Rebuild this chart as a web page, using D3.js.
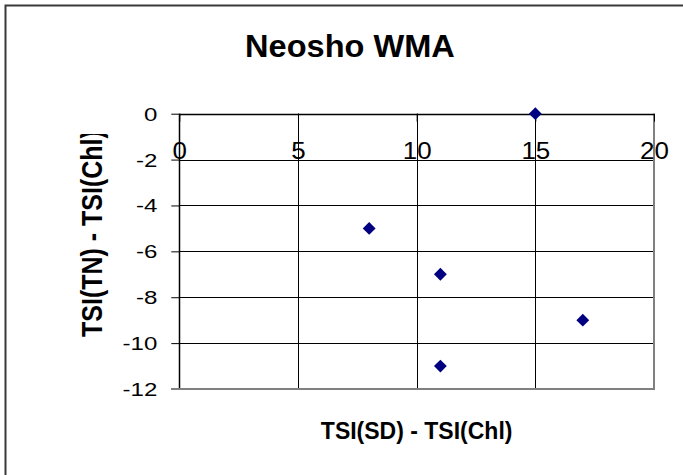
<!DOCTYPE html>
<html>
<head>
<meta charset="utf-8">
<script src="https://cdn.jsdelivr.net/npm/d3@7"></script>
<style>
  html, body { margin: 0; padding: 0; background: #fff; overflow: hidden; }
  svg { display: block; }
  text { font-family: "Liberation Sans", Arial, sans-serif; fill: #000; }
</style>
</head>
<body>
<svg id="chart" width="683" height="475"></svg>
<script>
// ---- data ----
const xValues = [15, 8, 11, 17, 11];
const yValues = [0, -5, -7, -9, -11];
const xTicks = [0, 5, 10, 15, 20];
const xTickLabels = ["0", "5", "10", "15", "20"];
const yTicks = [0, -2, -4, -6, -8, -10, -12];
const yTickLabels = ["0", "-2", "-4", "-6", "-8", "-10", "-12"];
const chartTitle = "Neosho WMA";
const xTitle = "TSI(SD) - TSI(Chl)";
const yTitle = "TSI(TN) - TSI(Chl)";

(function () {
const svg = d3.select("#chart");

// outer chart border (only top and left fall inside the window)
svg.append("path")
  .attr("d", "M5.5,490V5.5H700")
  .attr("fill", "none")
  .attr("stroke", "#3a3a3a").attr("stroke-width", 2);

const pL = 179.3, pR = 654, pT = 113.7, pB = 389;
const x = d3.scaleLinear().domain([0, 20]).range([pL, pR]);
const y = d3.scaleLinear().domain([-12, 0]).range([pB, pT]);

function stretch(sel, f) {
  sel.each(function () {
    const w = this.getComputedTextLength();
    d3.select(this).attr("textLength", w * f).attr("lengthAdjust", "spacingAndGlyphs");
  });
}

// gridlines
svg.append("g").selectAll("line").data(yTicks.filter(d => d !== 0 && d !== -12))
  .join("line")
  .attr("x1", pL).attr("x2", pR)
  .attr("y1", d => Math.round(y(d)) + 0.5).attr("y2", d => Math.round(y(d)) + 0.5)
  .attr("stroke", "#000").attr("stroke-width", 1);
svg.append("g").selectAll("line").data(xTicks.filter(d => d !== 0 && d !== 20))
  .join("line")
  .attr("x1", d => Math.round(x(d)) + 0.5).attr("x2", d => Math.round(x(d)) + 0.5)
  .attr("y1", pT).attr("y2", pB)
  .attr("stroke", "#000").attr("stroke-width", 1);

// plot area border right (grey)
svg.append("line").attr("x1", pR).attr("x2", pR).attr("y1", pT).attr("y2", pB + 1)
  .attr("stroke", "#808080").attr("stroke-width", 2);

// y axis (left)
const yAxis = d3.axisLeft(y).tickValues(yTicks)
  .tickFormat((d, i) => yTickLabels[i]).tickSize(8).tickPadding(14);
const gy = svg.append("g").attr("transform", `translate(${pL},0)`).call(yAxis);
gy.select(".domain").remove();
gy.selectAll(".tick line").attr("stroke", "#000");
gy.selectAll(".tick text").attr("font-size", 18.5).attr("font-family", "Liberation Sans").attr("dy", "0.35em");
stretch(gy.selectAll(".tick text"), 1.3);
svg.append("line").attr("x1", Math.round(pL) + 0.5).attr("x2", Math.round(pL) + 0.5)
  .attr("y1", pT).attr("y2", pB).attr("stroke", "#000").attr("stroke-width", 1.5);

// bottom grey border incl. its tick
svg.append("line").attr("x1", 171).attr("x2", pR + 1).attr("y1", pB).attr("y2", pB)
  .attr("stroke", "#808080").attr("stroke-width", 2);

// x axis crossing at y = 0 (top)
const xAxis = d3.axisBottom(x).tickValues(xTicks)
  .tickFormat((d, i) => xTickLabels[i]).tickSize(8).tickPadding(20);
const gx = svg.append("g").attr("transform", `translate(0,${y(0)})`).call(xAxis);
gx.select(".domain").remove();
gx.selectAll(".tick line").attr("stroke", "#000");
gx.selectAll(".tick text").attr("font-size", 24).attr("font-family", "Liberation Sans")
  .attr("y", 45.6).attr("dy", 0);
stretch(gx.selectAll(".tick text"), 1.08);
svg.append("line").attr("x1", pL).attr("x2", pR).attr("y1", Math.round(pT) + 0.5).attr("y2", Math.round(pT) + 0.5)
  .attr("stroke", "#000").attr("stroke-width", 1.5);

// points (diamonds)
const diamond = d3.symbol().type(d3.symbolDiamond2).size(105);
svg.append("g").selectAll("path").data(xValues.map((v, i) => [v, yValues[i]]))
  .join("path")
  .attr("d", diamond)
  .attr("transform", d => `translate(${x(d[0])},${y(d[1])})`)
  .attr("fill", "#000080");

// title
const t = svg.append("text").attr("x", 350).attr("y", 56.7)
  .attr("text-anchor", "middle").attr("font-weight", "bold").attr("font-size", 31)
  .text(chartTitle);
stretch(t, 1.05);

// x title
svg.append("text").attr("x", (pL + pR) / 2).attr("y", 439.3)
  .attr("text-anchor", "middle").attr("font-weight", "bold").attr("font-size", 23)
  .text(xTitle);

// y title (rotated, clipped at top)
svg.append("clipPath").attr("id", "ytclip").append("rect")
  .attr("x", 60).attr("y", 134).attr("width", 60).attr("height", 260);
svg.append("g").attr("clip-path", "url(#ytclip)")
  .append("text")
  .attr("transform", "translate(102.4,337) rotate(-90) scale(1,1.2)")
  .attr("text-anchor", "start").attr("font-weight", "bold").attr("font-size", 25)
  .text(yTitle);
})();
</script>
</body>
</html>
